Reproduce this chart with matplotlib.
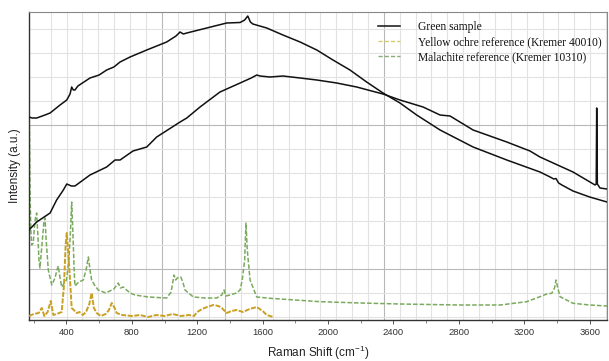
import matplotlib
matplotlib.use("Agg")
import matplotlib.pyplot as plt
from matplotlib.lines import Line2D
import numpy as np

# ---------------- data ----------------
# Green sample, spectrum 1 (upper at left)
xA = [171, 190, 218, 269, 300, 361, 402, 422, 432, 442, 452, 470, 544, 600, 646, 690, 728, 789, 891,
      1013, 1070, 1095, 1115, 1136, 1258, 1380, 1462, 1490, 1509, 1525, 1540, 1625, 1724, 1829, 1931,
      2030, 2134, 2236, 2336, 2440, 2542, 2685, 2887, 3093, 3296, 3358, 3380, 3394, 3410, 3430, 3498,
      3600, 3706]
yA = [203, 202, 202, 205, 207, 215, 220, 226, 233, 230, 230, 234, 242, 245, 250, 253, 258, 263, 270,
      278, 284, 288, 286, 287, 292, 297, 297.5, 300, 304, 298, 296, 292, 285, 278, 270,
      260, 250, 238, 227, 217, 205, 190, 173, 160, 148, 143, 141, 141.5, 137, 135, 129,
      123, 118]

# Green sample, spectrum 2 (lower at left, with spike near 3645)
xB = [171, 218, 300, 340, 381, 402, 430, 452, 544, 646, 697, 728, 807, 891, 952, 1095, 1136, 1217,
      1339, 1462, 1530, 1564, 1584, 1645, 1724, 1829, 1931, 2053, 2175, 2336, 2440, 2581, 2685, 2746,
      2887, 3093, 3235, 3296, 3498, 3633, 3640, 3643, 3647, 3663, 3706]
yB = [90, 98, 107, 120, 130, 136, 134, 134, 145, 153, 160, 160, 169, 173, 183, 198, 202, 213,
      228, 237, 242, 245, 244, 243, 244, 242, 240, 237, 233, 226, 220, 213, 205, 204,
      190, 178, 169, 163, 148, 135, 136, 212, 136, 132, 131]

# Yellow ochre reference (Kremer 40010)
xY = [171, 200, 230, 249, 265, 285, 304, 320, 340, 371, 385, 395, 402, 410, 422, 432, 445, 463, 480,
      500, 520, 540, 554, 568, 585, 610, 640, 660, 677, 695, 707, 740, 800, 850, 900, 950, 1000, 1050,
      1100, 1150, 1180, 1200, 1230, 1260, 1298, 1330, 1350, 1380, 1410, 1441, 1480, 1520, 1564, 1600,
      1625, 1665]
yY = [4, 6, 7, 12, 4, 8, 19, 5, 6, 8, 35, 75, 87, 70, 40, 12, 10, 7, 8,
      5, 8, 16, 27, 12, 7, 4, 6, 10, 17, 12, 7, 5, 4, 5, 3, 5, 4, 6,
      4, 5, 4, 8, 11, 13, 15, 14, 12, 7, 9, 10, 8, 11, 13, 9,
      5, 3]

# Malachite reference (Kremer 10310)
xG = [171, 174, 177, 182, 188, 197, 205, 212, 218, 225, 232, 238, 250, 262, 269, 276, 289, 310, 330,
      342, 350, 358, 371, 400, 415, 425, 432, 440, 447, 452, 475, 503, 520, 534, 546, 554, 575, 595,
      640, 690, 717, 730, 748, 760, 790, 819, 900, 1013, 1040, 1058, 1068, 1078, 1099, 1112, 1125,
      1176, 1250, 1319, 1350, 1364, 1375, 1400, 1440, 1462, 1475, 1490, 1498, 1506, 1523, 1564, 1645,
      1800, 1951, 2200, 2440, 2800, 3052, 3215, 3296, 3337, 3368, 3385, 3394, 3405, 3419, 3498, 3600,
      3706]
yG = [215, 190, 130, 90, 75, 77, 95, 104, 107, 85, 60, 52, 75, 98, 102, 80, 50, 35, 42,
      50, 54, 45, 33, 40, 60, 90, 118, 85, 50, 34, 38, 40, 50, 63, 48, 40, 34, 30,
      27, 31, 37, 32, 33, 31, 27, 25, 23, 22, 28, 45, 40, 42, 43, 38, 30,
      23, 22, 22, 25, 30, 24, 25, 27, 30, 40, 60, 97, 70, 40, 23, 21.7,
      20, 18.3, 17, 16, 15, 15, 18.3, 23.3, 26, 26.7, 32, 40, 32, 23.3, 16.7, 15,
      14]

x_ticks = [400, 800, 1200, 1600, 2000, 2400, 2800, 3200, 3600]
labels = ["Green sample", "Yellow ochre reference (Kremer 40010)", "Malachite reference (Kremer 10310)"]

# ---------------- style ----------------
plt.rcParams['font.family'] = ['Liberation Sans', 'DejaVu Sans']
plt.rcParams['mathtext.fontset'] = 'custom'
plt.rcParams['mathtext.rm'] = 'Liberation Sans'
plt.rcParams['mathtext.it'] = 'Liberation Sans:italic'

BLACK = '#111111'
YELLOW = '#c9a021'
GREEN = '#7aaa5e'

fig = plt.figure(figsize=(6.09, 3.61), dpi=100)
W, H = 609, 361
ax = fig.add_axes([29 / W, (H - 320) / H, (607 - 29) / W, (320 - 12) / H])

xmin, xmax = 171, 3706
ax.set_xlim(xmin, xmax)
ax.set_ylim(0, 308)

# grid (composite-looking lattice)
px_per_unit = 578 / (xmax - xmin)
for k in range(36):
    px = 50.7 + 15.866 * k - 29
    xv = xmin + px / px_per_unit
    if xv >= xmax:
        break
    dark = k in (7, 11, 21)
    ax.axvline(xv, color='#b8b8b8' if dark else '#e2e2e2', lw=0.8, zorder=0)
for j in range(13):
    yv = 3 + 24 * j
    dark = j in (2, 8)
    ax.axhline(yv, color='#b8b8b8' if dark else '#e2e2e2', lw=0.8, zorder=0)

ax.plot(xG, yG, color=GREEN, lw=1.1, dashes=(3, 1.3), zorder=2)
ax.plot(xY, yY, color=YELLOW, lw=1.4, dashes=(2.6, 0.8), zorder=3)
ax.plot(xA, yA, color=BLACK, lw=1.1, zorder=4)
ax.plot(xB, yB, color=BLACK, lw=1.1, zorder=4)

ax.set_xticks(x_ticks)
ax.set_xticks(np.arange(200, 3800, 200), minor=True)
ax.tick_params(axis='x', which='major', length=3, width=0.7, labelsize=6.8,
               labelcolor='#333333', color='#555555', pad=3)
ax.tick_params(axis='x', which='minor', length=2, width=0.6, color='#777777')
ax.set_yticks([])

for side in ('left', 'bottom'):
    ax.spines[side].set_color('#333333')
    ax.spines[side].set_linewidth(1.0)
for side in ('top', 'right'):
    ax.spines[side].set_color('#888888')
    ax.spines[side].set_linewidth(0.8)

ax.set_xlabel(r'Raman Shift (cm$^{-1}$)', fontsize=8.5, color='#222222', labelpad=5)
ax.set_ylabel('Intensity (a.u.)', fontsize=8.5, color='#222222', labelpad=6)

handles = [Line2D([], [], color=BLACK, lw=1.1),
           Line2D([], [], color='#d8cc6a', lw=1.0, dashes=(3, 1.5)),
           Line2D([], [], color='#8aac72', lw=1.0, dashes=(3, 1.5))]
leg = ax.legend(handles, labels, loc='upper left', bbox_to_anchor=(0.604, 0.97),
                frameon=False, borderpad=0, borderaxespad=0, handlelength=1.9,
                handletextpad=1.6, labelspacing=0.25,
                prop={'family': 'Liberation Serif', 'size': 8.3})
for t in leg.get_texts():
    t.set_color('#111111')

fig.savefig('out.png', dpi=100)
